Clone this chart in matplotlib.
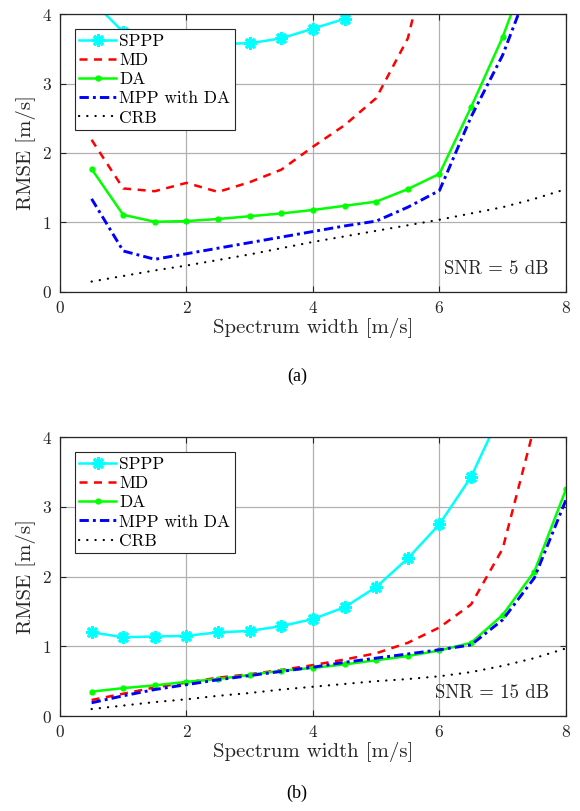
import matplotlib
matplotlib.use('Agg')
import matplotlib.pyplot as plt

plt.rcParams['font.family'] = ['cmr10', 'DejaVu Serif']
plt.rcParams['mathtext.fontset'] = 'cm'
plt.rcParams['axes.formatter.use_mathtext'] = True

# spectrum width grid
x = [0.5, 1.0, 1.5, 2.0, 2.5, 3.0, 3.5, 4.0, 4.5, 5.0, 5.5, 6.0, 6.5, 7.0, 7.5, 8.0]

# (a) SNR = 5 dB
sppp_a = [4.20, 3.74, 3.62, 3.58, 3.57, 3.58, 3.65, 3.79, 3.93, 4.30, 4.8, 5.5, 6.3, 7.2, 8.2, 9.3]
md_a = [2.19, 1.49, 1.45, 1.57, 1.44, 1.58, 1.76, 2.09, 2.40, 2.79, 3.65, 5.5, 7.0, 8.5, 10.0, 11.5]
da_a = [1.77, 1.11, 1.01, 1.02, 1.05, 1.09, 1.13, 1.18, 1.24, 1.30, 1.48, 1.70, 2.66, 3.67, 4.9, 6.2]
mpp_a = [1.34, 0.59, 0.47, 0.55, 0.63, 0.71, 0.79, 0.87, 0.95, 1.02, 1.22, 1.46, 2.52, 3.41, 4.6, 5.9]
crb_a = [0.15, 0.23, 0.31, 0.38, 0.46, 0.54, 0.63, 0.72, 0.80, 0.88, 0.96, 1.04, 1.13, 1.22, 1.34, 1.48]

# (b) SNR = 15 dB
sppp_b = [1.20, 1.13, 1.14, 1.15, 1.20, 1.22, 1.29, 1.39, 1.56, 1.85, 2.26, 2.75, 3.43, 4.4, 5.5, 6.8]
md_b = [0.23, 0.32, 0.41, 0.48, 0.55, 0.60, 0.66, 0.73, 0.81, 0.90, 1.05, 1.27, 1.60, 2.40, 4.15, 6.0]
da_b = [0.35, 0.40, 0.44, 0.49, 0.53, 0.59, 0.65, 0.69, 0.74, 0.80, 0.86, 0.94, 1.05, 1.45, 2.07, 3.25]
mpp_b = [0.19, 0.29, 0.38, 0.45, 0.52, 0.58, 0.64, 0.70, 0.77, 0.83, 0.89, 0.95, 1.02, 1.38, 1.98, 3.10]
crb_b = [0.10, 0.15, 0.20, 0.24, 0.29, 0.33, 0.38, 0.42, 0.46, 0.50, 0.53, 0.57, 0.63, 0.72, 0.83, 0.97]

labels = ['SPPP', 'MD', 'DA', 'MPP with DA', 'CRB']
xticks = [0, 2, 4, 6, 8]
yticks = [0, 1, 2, 3, 4]


def draw(ax, sppp, md, da, mpp, crb, snr_text):
    lw = 1.8
    ax.plot(x, sppp, color='#00ffff', lw=lw, marker=(8, 2, 0), ms=9, mew=2.0,
            label=labels[0])
    ax.plot(x, md, color='#ff0000', lw=lw, dashes=(3.2, 2.6), label=labels[1])
    ax.plot(x, da, color='#00ff00', lw=lw, marker='o', ms=3.5, label=labels[2])
    ax.plot(x, mpp, color='#0000ff', lw=lw + 0.3, dashes=(3.2, 1.4, 1.0, 1.4),
            label=labels[3])
    ax.plot(x, crb, color='black', lw=1.6, dashes=(0.1, 3.6),
            dash_capstyle='round', label=labels[4])
    ax.set_xlim(0, 8)
    ax.set_ylim(0, 4)
    ax.set_xticks(xticks)
    ax.set_yticks(yticks)
    ax.grid(True, color='#b0b0b0', lw=0.9)
    ax.set_axisbelow(True)
    ax.tick_params(direction='in', top=True, right=True, labelsize=12.5,
                   colors='#262626', length=4, pad=6)
    for s in ax.spines.values():
        s.set_color('#262626')
        s.set_linewidth(0.9)
    ax.set_xlabel('Spectrum width [m/s]', fontsize=15, color='#262626',
                  labelpad=1)
    ax.set_ylabel('RMSE [m/s]', fontsize=15, color='#262626', labelpad=4)
    leg = ax.legend(loc='upper left', bbox_to_anchor=(0.03, 0.945), fontsize=12.5,
                    fancybox=False, edgecolor='#262626', framealpha=1,
                    handlelength=2.1, handletextpad=0.2, labelspacing=0.22,
                    borderpad=0.25, borderaxespad=0)
    leg.get_frame().set_linewidth(0.8)
    ax.text(0.966, 0.05, snr_text, transform=ax.transAxes, ha='right',
            va='bottom', fontsize=13.5, color='#262626')


fig = plt.figure(figsize=(5.8, 8.11), dpi=100)
ax1 = fig.add_axes([0.1034, 0.640, 0.8724, 0.3427])
ax2 = fig.add_axes([0.1034, 0.1171, 0.8724, 0.344])

draw(ax1, sppp_a, md_a, da_a, mpp_a, crb_a, 'SNR = 5 dB')
draw(ax2, sppp_b, md_b, da_b, mpp_b, crb_b, 'SNR = 15 dB')

fig.text(0.512, 1 - 376 / 811, '(a)', ha='center', va='center', fontsize=13,
         family='Liberation Serif')
fig.text(0.512, 1 - 793 / 811, '(b)', ha='center', va='center', fontsize=13,
         family='Liberation Serif')

fig.savefig('out.png', dpi=100)
